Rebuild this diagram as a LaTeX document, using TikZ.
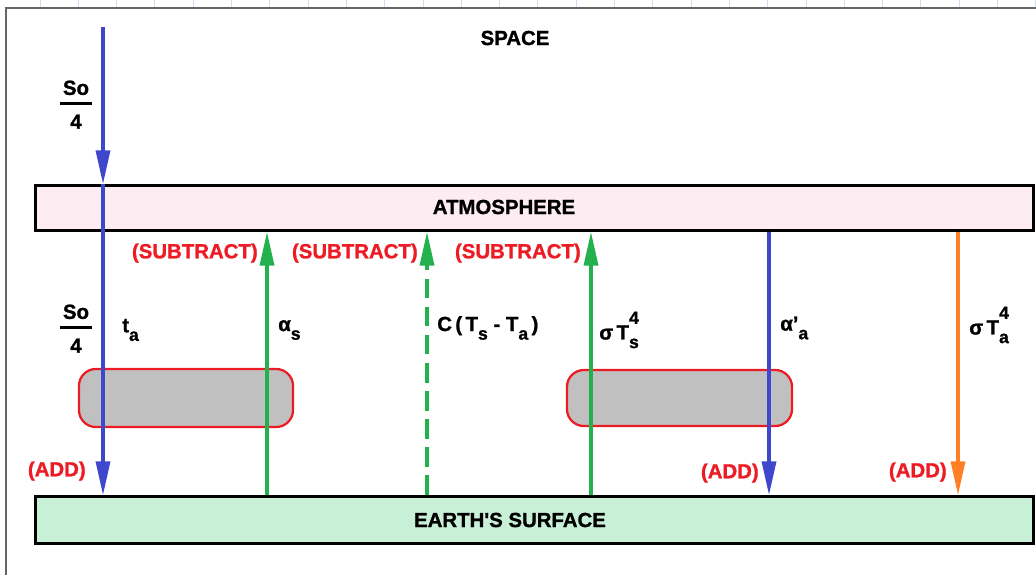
\documentclass[tikz,border=0pt]{standalone}
\usepackage{fontspec}
\setmainfont{Liberation Sans}[BoldFeatures={FakeBold=1.2}]
\usetikzlibrary{arrows.meta}
\definecolor{fluxblue}{RGB}{63,72,204}
\definecolor{fluxgreen}{RGB}{34,177,76}
\definecolor{fluxorange}{RGB}{255,127,39}
\definecolor{signred}{RGB}{237,28,36}
\definecolor{atmpink}{RGB}{253,236,242}
\definecolor{earthgreen}{RGB}{200,240,214}
\definecolor{cloudgray}{RGB}{192,192,192}
\definecolor{gridblue}{RGB}{205,222,240}
\newcommand{\lowsub}[1]{\raisebox{-0.8ex}{\fontsize{12.5}{12}\selectfont #1}}
\newcommand{\supsub}[2]{\rlap{\raisebox{1.45ex}{\fontsize{12.5}{12}\selectfont #1}}\lowsub{#2}}
\newcommand{\sofrac}{\setlength{\arrayrulewidth}{2pt}\begin{tabular}{@{\,}c@{\,}}So\\\hline\rule{0pt}{17pt}4\end{tabular}}

\begin{document}
\begin{tikzpicture}[x=0.025cm, y=-0.025cm,
  txt/.style={font=\fontsize{14.5}{17}\selectfont\bfseries, inner sep=0pt},
  signtxt/.style={txt, text=signred, anchor=east},
  layerbox/.style={draw=black, line width=2pt, minimum width=24.95cm, minimum height=1.125cm, inner sep=0pt},
  cloudbox/.style={draw=signred, fill=cloudgray, line width=1.6pt, rounded corners=12pt, inner sep=0pt},
  flux/.style={line width=2.3pt, -{Triangle[length=24pt, width=10pt]}}]
  \useasboundingbox (0,0) rectangle (1036,575);
  \foreach \x in {40,78.3,...,1036}
    \draw[gridblue, line width=0.6pt] (\x,0) -- (\x,7);
  \draw[black!60, line width=1.4pt] (6,575) -- (6,8) -- (1036,8);

  \node[layerbox, fill=atmpink] (atm) at (534.5,208) {};
  \node[layerbox, fill=earthgreen, minimum height=1.175cm] (earth) at (534.5,520) {};
  \node[cloudbox, minimum width=5.35cm, minimum height=1.45cm] (cloudL) at (186,398) {};
  \node[cloudbox, minimum width=5.625cm, minimum height=1.4cm] (cloudR) at (679.5,398) {};
  \node[txt] (spacetxt) at (515,38) {SPACE};
  \node[txt] (atmtxt) at (504,207) {ATMOSPHERE};
  \node[txt] (earthtxt) at (510,520) {EARTH\textquotesingle S SURFACE};

  \foreach \n/\x in {1/103, 2/267, 3/427, 4/591, 5/769, 6/958}
    \coordinate (col\n) at (\x,0);
  \coordinate (sun) at (103,27);

  \draw[flux, fluxblue] (sun) -- (atm.north -| col1);
  \draw[flux, fluxblue] (atm.north -| col1) -- (earth.north -| col1);
  \foreach \n in {2,4}
    \draw[flux, fluxgreen] (earth.north -| col\n) -- (atm.south -| col\n);
  \draw[flux, fluxgreen, dash pattern=on 14pt off 6pt] (earth.north -| col3) -- (atm.south -| col3);
  \draw[flux, fluxblue] (atm.south -| col5) -- (earth.north -| col5);
  \draw[flux, fluxorange] (atm.south -| col6) -- (earth.north -| col6);

  \node[txt] (sofracTop) at (76,107) {\sofrac};
  \node[txt] (sofracLow) at (76,331) {\sofrac};
  \node[txt, anchor=west] (talab) at (122,330) {t\lowsub{a}};
  \node[txt, anchor=west] (alphaS) at (278,330) {α\lowsub{s}};
  \node[txt, anchor=west] (convlab) at (437,328) {C\,(\,T\lowsub{s} - T\lowsub{a}\,)};
  \node[txt, anchor=west] (sigmaS) at (599,330) {σ\,T\supsub{4}{s}};
  \node[txt, anchor=west] (alphaA) at (780,328) {α’\lowsub{a}};
  \node[txt, anchor=west] (sigmaA) at (969,325) {σ\,T\supsub{4}{a}};

  \foreach \n/\x in {1/258, 2/418, 3/581}
    \node[signtxt] (sub\n) at (\x,253) {(SUBTRACT)};
  \node[signtxt] (addL) at (86,471) {(ADD)};
  \node[signtxt] (addM) at (759,473) {(ADD)};
  \node[signtxt] (addR) at (947,472) {(ADD)};
\end{tikzpicture}
\end{document}
